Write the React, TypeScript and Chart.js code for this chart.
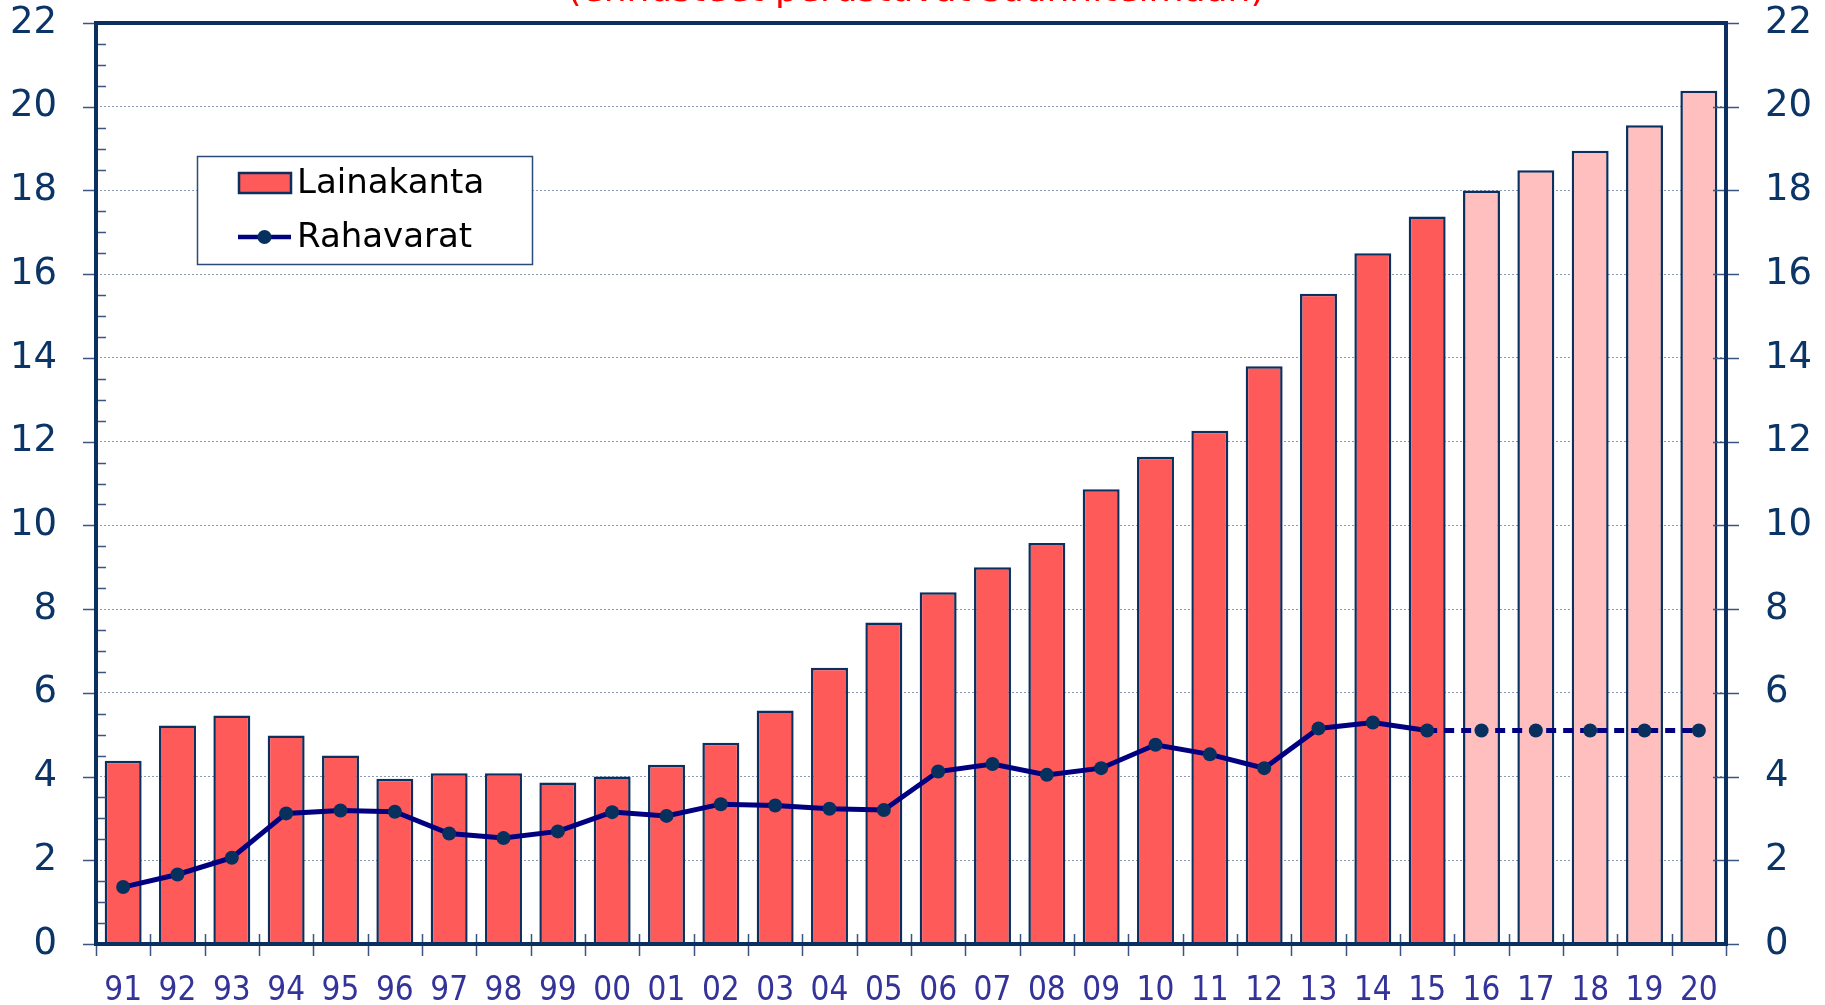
import React, { useEffect, useRef } from 'react';
import { Chart, registerables } from 'chart.js';

Chart.register(...registerables);

const years = ['91','92','93','94','95','96','97','98','99','00','01','02','03','04','05','06','07','08','09','10','11','12','13','14','15','16','17','18','19','20'];
const lainakanta = [4.38,5.22,5.46,4.98,4.5,3.95,4.08,4.08,3.86,4.0,4.28,4.81,5.58,6.6,7.68,8.4,9.0,9.58,10.86,11.64,12.26,13.8,15.53,16.5,17.38,18.0,18.48,18.95,19.56,20.38];
const rahavarat = [1.36,1.66,2.06,3.12,3.19,3.16,2.64,2.53,2.69,3.15,3.06,3.34,3.31,3.23,3.2,4.12,4.3,4.04,4.2,4.76,4.53,4.2,5.15,5.29,5.1,5.1,5.1,5.1,5.1,5.1];
const isForecast = [false,false,false,false,false,false,false,false,false,false,false,false,false,false,false,false,false,false,false,false,false,false,false,false,false,true,true,true,true,true];
const seriesNames = ['Lainakanta', 'Rahavarat'];
const titleText = '(ennusteet perustuvat suunnitelmaan)';

const NAVY = '#0b2f5e';
const LINE = '#000080';
const BAR = '#ff5a5a';
const BAR_FC = '#ffbfbf';
const TICKC = '#3a5680';

const decorPlugin = {
  id: 'decor',
  afterDatasetsDraw(chart: any) {
    const { ctx, chartArea: a, scales } = chart;
    const x = scales.x;
    const y = scales.y;
    ctx.save();
    ctx.strokeStyle = TICKC;
    ctx.lineWidth = 1.5;
    ctx.beginPath();
    const n = years.length;
    for (let i = 0; i <= n; i++) {
      const px = Math.round(x.left + (i * x.width) / n) + 0.5;
      ctx.moveTo(px, a.bottom - 10);
      ctx.lineTo(px, a.bottom + 12);
    }
    for (let v = 0; v <= 22; v += 2) {
      const py = Math.round(y.getPixelForValue(v)) + 0.5;
      ctx.moveTo(a.left - 13, py);
      ctx.lineTo(a.left, py);
      ctx.moveTo(a.right - 13, py);
      ctx.lineTo(a.right + 13, py);
    }
    for (let v = 0.5; v < 22; v += 0.5) {
      if (v % 2 === 0) continue;
      const py = Math.round(y.getPixelForValue(v)) + 0.5;
      ctx.moveTo(a.left, py);
      ctx.lineTo(a.left + 10, py);
    }
    ctx.stroke();
    ctx.strokeStyle = NAVY;
    ctx.lineWidth = 4;
    ctx.beginPath();
    ctx.moveTo(a.left, a.top);
    ctx.lineTo(a.right, a.top);
    ctx.lineTo(a.right, a.bottom);
    ctx.lineTo(a.left, a.bottom);
    ctx.closePath();
    ctx.stroke();
    ctx.restore();
  },
  afterDraw(chart: any) {
    const { ctx } = chart;
    ctx.save();
    ctx.fillStyle = '#ff0000';
    ctx.font = '36px "DejaVu Sans"';
    ctx.textAlign = 'center';
    ctx.textBaseline = 'alphabetic';
    ctx.fillText(titleText, 916, 1, 760);
    const bx = 197.5, by = 156.5, bw = 335, bh = 108;
    ctx.fillStyle = '#ffffff';
    ctx.fillRect(bx, by, bw, bh);
    ctx.strokeStyle = '#2c4a7a';
    ctx.lineWidth = 1.5;
    ctx.strokeRect(bx, by, bw, bh);
    ctx.fillStyle = BAR;
    ctx.fillRect(239, 173, 52, 20);
    ctx.strokeStyle = NAVY;
    ctx.lineWidth = 2.5;
    ctx.strokeRect(239, 173, 52, 20);
    ctx.strokeStyle = LINE;
    ctx.lineWidth = 4.5;
    ctx.beginPath();
    ctx.moveTo(238, 237);
    ctx.lineTo(291, 237);
    ctx.stroke();
    ctx.fillStyle = '#07305e';
    ctx.beginPath();
    ctx.arc(264.5, 237, 7, 0, Math.PI * 2);
    ctx.fill();
    ctx.fillStyle = '#000000';
    ctx.font = '34px "DejaVu Sans"';
    ctx.textAlign = 'left';
    ctx.textBaseline = 'middle';
    ctx.fillText(seriesNames[0], 297, 184);
    ctx.fillText(seriesNames[1], 297, 238);
    ctx.restore();
  },
};

export default function App() {
  const ref = useRef<HTMLCanvasElement | null>(null);
  useEffect(() => {
    if (!ref.current) return;
    const chart = new Chart(ref.current, {
      type: 'bar',
      data: {
        labels: years,
        datasets: [
          {
            type: 'line',
            label: seriesNames[1],
            data: rahavarat,
            borderColor: LINE,
            borderWidth: 5,
            pointRadius: 7,
            pointHoverRadius: 7,
            pointBackgroundColor: '#07305e',
            pointBorderColor: '#07305e',
            pointBorderWidth: 0,
            tension: 0,
            order: 0,
            segment: {
              borderDash: (c: any) => (c.p0DataIndex >= 24 ? [10, 7] : undefined),
            },
          } as any,
          {
            type: 'bar',
            label: seriesNames[0],
            data: lainakanta,
            backgroundColor: isForecast.map((f) => (f ? BAR_FC : BAR)),
            borderColor: NAVY,
            borderWidth: 2.5,
            borderSkipped: 'bottom',
            categoryPercentage: 1,
            barPercentage: 0.68,
            order: 1,
          },
        ],
      },
      options: {
        animation: false,
        responsive: true,
        maintainAspectRatio: false,
        layout: { padding: { top: 23, left: 0, right: 0, bottom: 0 } },
        plugins: {
          legend: { display: false },
          tooltip: { enabled: false },
          title: { display: false },
        },
        scales: {
          x: {
            offset: true,
            grid: { display: false, drawTicks: false },
            border: { display: false },
            ticks: {
              color: '#333399',
              font: { family: '"DejaVu Sans Condensed", "DejaVu Sans"', size: 33 },
              padding: 28,
              maxRotation: 0,
              autoSkip: false,
            },
            afterFit: (s: any) => { s.height = 61; s.paddingLeft = 0; s.paddingRight = 0; },
          },
          y: {
            position: 'left',
            min: 0,
            max: 22,
            grid: {
              color: (c: any) => (c.tick && (c.tick.value === 0 || c.tick.value === 22) ? 'rgba(0,0,0,0)' : '#8a9ab2'),
              lineWidth: 1,
              drawTicks: false,
            },
            border: { display: false, dash: [2, 2] },
            ticks: {
              stepSize: 2,
              color: '#0b3566',
              font: { family: '"DejaVu Sans"', size: 37 },
              padding: 39,
            },
            afterFit: (s: any) => { s.width = 96; s.paddingTop = 0; s.paddingBottom = 0; },
          },
          y2: {
            position: 'right',
            min: 0,
            max: 22,
            grid: { display: false, drawTicks: false },
            border: { display: false },
            ticks: {
              stepSize: 2,
              color: '#0b3566',
              font: { family: '"DejaVu Sans"', size: 37 },
              padding: 39,
            },
            afterFit: (s: any) => { s.width = 99; s.paddingTop = 0; s.paddingBottom = 0; },
          },
        },
      },
      plugins: [decorPlugin],
    });
    return () => chart.destroy();
  }, []);
  return (
    <div style={{ position: 'fixed', left: 0, top: 0, width: '1825px', height: '1005px', background: '#fff' }}>
      <canvas ref={ref} />
    </div>
  );
}
